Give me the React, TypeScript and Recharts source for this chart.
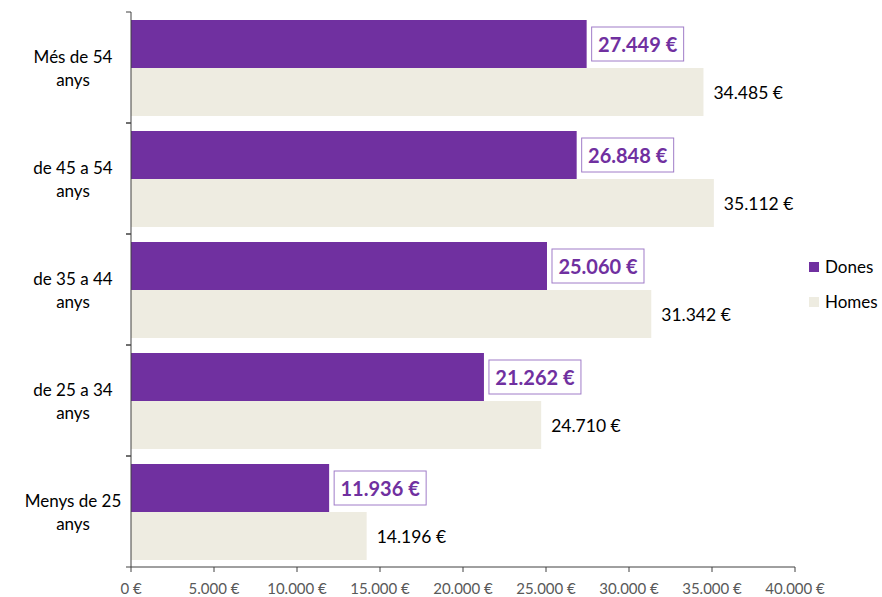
import React from 'react';
import { BarChart, Bar, XAxis, YAxis, Legend, LabelList } from 'recharts';

const categories = ['Més de 54 anys', 'de 45 a 54 anys', 'de 35 a 44 anys', 'de 25 a 34 anys', 'Menys de 25 anys'];
const dones = [27449, 26848, 25060, 21262, 11936];
const homes = [34485, 35112, 31342, 24710, 14196];
const xTicks = [0, 5000, 10000, 15000, 20000, 25000, 30000, 35000, 40000];
const seriesNames = ['Dones', 'Homes'];

const data = categories.map((c, i) => ({ cat: c, Dones: dones[i], Homes: homes[i] }));

const PURPLE = '#7030A0';
const TAN = '#EEECE1';
const AXIS = '#404040';
const FONT = 'Lato, "Open Sans", sans-serif';

const W = 882;
const H = 597;
const X_AXIS_H = 30;
const M = { top: 12, right: 87, bottom: 0, left: 0 };
const HALF_BAND = (H - M.top - M.bottom - X_AXIS_H) / categories.length / 2;
const AXIS_Y = H - M.bottom - X_AXIS_H;

const fmt = (v: number) => String(v).replace(/\B(?=(\d{3})+(?!\d))/g, '.') + ' €';

const CatTick = (props: any) => {
  const { x, y, payload } = props;
  const words = String(payload.value).split(' ');
  const l1 = words.slice(0, words.length - 1).join(' ');
  const l2 = words[words.length - 1];
  const ax = x + 8;
  return (
    <g>
      <line x1={ax - 5} x2={ax} y1={y - HALF_BAND} y2={y - HALF_BAND} stroke={AXIS} />
      <line x1={ax - 5} x2={ax} y1={y + HALF_BAND} y2={y + HALF_BAND} stroke={AXIS} />
      <text x={73} y={y} textAnchor="middle" fontFamily={FONT} fontSize={17} fill="#000">
        <tspan x={73} dy={-5}>{l1}</tspan>
        <tspan x={73} dy={23}>{l2}</tspan>
      </text>
    </g>
  );
};

const XTick = (props: any) => {
  const { x, payload } = props;
  return (
    <text x={x} y={AXIS_Y + 27} textAnchor="middle" fontFamily={FONT} fontSize={15} fill="#595959">
      {fmt(payload.value)}
    </text>
  );
};

const DonesLabel = (props: any) => {
  const { x, y, width, height, value } = props;
  const bx = x + width + 5;
  const cy = y + height / 2;
  const bw = 92;
  const bh = 34;
  return (
    <g>
      <rect x={bx} y={cy - bh / 2} width={bw} height={bh} fill="#fff" stroke="#A07CC8" strokeWidth={1} />
      <text x={bx + bw / 2} y={cy} textAnchor="middle" dominantBaseline="central" fontFamily={FONT} fontWeight="bold" fontSize={20} fill={PURPLE}>
        {fmt(value)}
      </text>
    </g>
  );
};

const HomesLabel = (props: any) => {
  const { x, y, width, height, value } = props;
  return (
    <text x={x + width + 10} y={y + height / 2} dominantBaseline="central" fontFamily={FONT} fontSize={17.5} fill="#000">
      {fmt(value)}
    </text>
  );
};

const LegendContent = () => (
  <div style={{ fontFamily: FONT, fontSize: 17, color: '#000' }}>
    {seriesNames.map((n, i) => (
      <div key={n} style={{ display: 'flex', alignItems: 'center', height: 35 }}>
        <span style={{ display: 'inline-block', width: 10, height: 10, background: i === 0 ? PURPLE : TAN, marginRight: 6 }} />
        <span>{n}</span>
      </div>
    ))}
  </div>
);

export default function App() {
  return (
    <div style={{ position: 'absolute', left: 0, top: 0, background: '#fff' }}>
      <BarChart width={W} height={H} data={data} layout="vertical" margin={M} barCategoryGap={8} barGap={0}>
        <XAxis
          type="number"
          domain={[0, 40000]}
          ticks={xTicks}
          stroke={AXIS}
          tickSize={5}
          tick={<XTick />}
          height={X_AXIS_H}
          interval={0}
        />
        <YAxis
          type="category"
          dataKey="cat"
          width={131}
          stroke={AXIS}
          tickLine={false}
          tick={<CatTick />}
          interval={0}
        />
        <Legend
          layout="horizontal"
          verticalAlign="middle"
          align="center"
          content={<LegendContent />}
          wrapperStyle={{ left: 809, top: 249, width: 80, height: 70 }}
        />
        <Bar dataKey="Dones" fill={PURPLE} isAnimationActive={false}>
          <LabelList dataKey="Dones" content={<DonesLabel />} />
        </Bar>
        <Bar dataKey="Homes" fill={TAN} isAnimationActive={false}>
          <LabelList dataKey="Homes" content={<HomesLabel />} />
        </Bar>
      </BarChart>
    </div>
  );
}
